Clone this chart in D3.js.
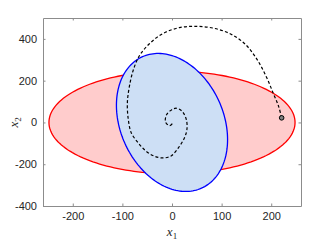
<!DOCTYPE html>
<html>
<head>
<meta charset="utf-8">
<script src="https://cdn.jsdelivr.net/npm/d3@7"></script>
<style>
  body { margin: 0; background: #fff; }
  .tick text { font-family: "Liberation Sans", Arial, sans-serif; font-size: 11px; fill: #262626; }
</style>
</head>
<body>
<div class="canvas"></div>
<script>
// tick values
const xTicks = [-200, -100, 0, 100, 200];
const yTicks = [-400, -200, 0, 200, 400];

// red ellipse semi-axes (x1, x2)
const redAxes = [248, 246];
// blue ellipse: x1 = a*cos t, x2 = b*cos t + c*sin t
const blueCoef = [112, -82, 320];

// dashed trajectory, from start marker into the origin
const trajX1 = [221, 215, 204, 190, 170, 146, 116, 82, 49, 15, -18, -45, -65, -78, -86, -90, -88, -82, -68, -52, -35, -18, -1, 15, 25, 30, 29, 21, 9, -1, -11, -13, -5, 1, -1];
const trajX2 = [22, 76, 140, 219, 307, 378, 426, 452, 460, 454, 426, 378, 322, 251, 171, 92, 13, -50, -98, -138, -162, -170, -159, -114, -74, -35, 13, 52, 68, 60, 37, 2, -15, -3, 3];

const dims = {width: 332, height: 241};
const m = {left: 43, right: 301, top: 18, bottom: 206};

const svg = d3.select('.canvas')
    .append('svg')
    .attr('width', dims.width)
    .attr('height', dims.height);

const x = d3.scaleLinear().domain([-260, 260]).range([m.left, m.right]);
const y = d3.scaleLinear().domain([-400, 500]).range([m.bottom, m.top]);

const plot = svg.append('g');

const line = d3.line().x(d => x(d[0])).y(d => y(d[1]));

// ellipses, sampled by angle
const angles = d3.range(0, 361, 2).map(a => a * Math.PI / 180);
const redPts = angles.map(t => [redAxes[0] * Math.cos(t), redAxes[1] * Math.sin(t)]);
const bluePts = angles.map(t => [blueCoef[0] * Math.cos(t), blueCoef[1] * Math.cos(t) + blueCoef[2] * Math.sin(t)]);

plot.append('path')
    .attr('d', line(redPts) + 'Z')
    .attr('fill', '#ffcccc')
    .attr('stroke', '#ff0000')
    .attr('stroke-width', 1.3);

plot.append('path')
    .attr('d', line(bluePts) + 'Z')
    .attr('fill', '#cddff5')
    .attr('stroke', '#0000ff')
    .attr('stroke-width', 1.3);

const traj = trajX1.map((v, i) => [v, trajX2[i]]);
plot.append('path')
    .attr('d', line.curve(d3.curveCatmullRom.alpha(0.5))(traj))
    .attr('fill', 'none')
    .attr('stroke', '#000')
    .attr('stroke-width', 1.2)
    .attr('stroke-dasharray', '3,2.2');

plot.append('circle')
    .attr('cx', x(trajX1[0]))
    .attr('cy', y(trajX2[0]))
    .attr('r', 2.3)
    .attr('fill', '#808080')
    .attr('stroke', '#000')
    .attr('stroke-width', 1);

// axes: ticks inside, on all four sides
const fmt = d => String(d);
const axes = [
    {axis: d3.axisBottom(x).tickValues(xTicks).tickFormat(fmt), tr: `translate(0,${m.bottom})`},
    {axis: d3.axisTop(x).tickValues(xTicks).tickFormat(''), tr: `translate(0,${m.top})`},
    {axis: d3.axisLeft(y).tickValues(yTicks).tickFormat(fmt), tr: `translate(${m.left},0)`},
    {axis: d3.axisRight(y).tickValues(yTicks).tickFormat(''), tr: `translate(${m.right},0)`}
];
axes.forEach(a => {
    const g = svg.append('g')
        .attr('transform', a.tr)
        .call(a.axis.tickSizeInner(-2.5).tickSizeOuter(0).tickPadding(6));
    g.select('.domain').attr('stroke', '#8c8c8c');
    g.selectAll('.tick line').attr('stroke', '#8c8c8c');
});

// axis labels
const xl = svg.append('text')
    .attr('x', x(0))
    .attr('y', 236)
    .attr('text-anchor', 'middle')
    .attr('font-family', '"Liberation Serif", serif')
    .attr('font-size', 13)
    .attr('fill', '#262626');
xl.append('tspan').attr('font-style', 'italic').text('x');
xl.append('tspan').attr('font-size', 9).attr('dy', 3).text('1');

const yl = svg.append('text')
    .attr('transform', `translate(18,${y(0)}) rotate(-90)`)
    .attr('text-anchor', 'middle')
    .attr('font-family', '"Liberation Serif", serif')
    .attr('font-size', 13)
    .attr('fill', '#262626');
yl.append('tspan').attr('font-style', 'italic').text('x');
yl.append('tspan').attr('font-size', 9).attr('dy', 3).text('2');
</script>
</body>
</html>
